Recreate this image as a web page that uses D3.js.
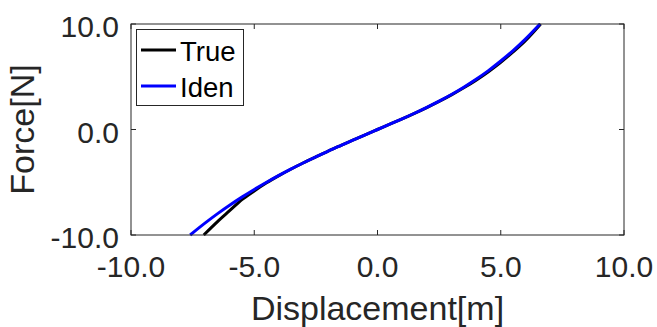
<!DOCTYPE html>
<html>
<head>
<meta charset="utf-8">
<script src="https://cdn.jsdelivr.net/npm/d3@7"></script>
<style>
  body { margin: 0; background: #fff; }
  svg { display: block; font-family: "Liberation Sans", Arial, sans-serif; }
</style>
</head>
<body>
<svg id="viz" width="657" height="327"></svg>
<script>
// values
const trueX = [-7.05, -6.5, -6.0, -5.5, -5.0, -4.5, -4.0, -3.5, -3.0, -2.5, -2.0, -1.5, -1.0, -0.5, 0.0,
  0.5, 1.0, 1.5, 2.0, 2.5, 3.0, 3.5, 4.0, 4.5, 5.0, 5.5, 6.0, 6.62];
const trueF = [-10.0, -8.75, -7.7, -6.65, -5.82, -5.05, -4.37, -3.74, -3.15, -2.59, -2.04, -1.52, -1.01, -0.5, 0.0,
  0.5, 1.0, 1.53, 2.08, 2.66, 3.28, 3.95, 4.68, 5.48, 6.37, 7.35, 8.42, 10.0];

const idenX = [-7.6, -7.0, -6.5, -6.0, -5.5, -5.0, -4.5, -4.0, -3.5, -3.0, -2.5, -2.0, -1.5, -1.0, -0.5, 0.0,
  0.5, 1.0, 1.5, 2.0, 2.5, 3.0, 3.5, 4.0, 4.5, 5.0, 5.5, 6.0, 6.59];
const idenF = [-10.0, -8.88, -8.0, -7.18, -6.41, -5.68, -5.0, -4.35, -3.73, -3.15, -2.59, -2.04, -1.52, -1.01, -0.5, 0.0,
  0.5, 1.01, 1.54, 2.1, 2.69, 3.32, 4.01, 4.76, 5.58, 6.49, 7.48, 8.57, 10.0];

const xTicks = [-10, -5, 0, 5, 10];
const yTicks = [-10, 0, 10];
const seriesNames = ["True", "Iden"];
const seriesColors = ["#000000", "#0000ff"];

const margin = { top: 24, right: 33, bottom: 92, left: 131 };
const AXIS_COLOR = "#262626";
const TICK_LEN = 5;

const svg = d3.select("#viz");
const width = +svg.attr("width");
const height = +svg.attr("height");

const x = d3.scaleLinear().domain([-10, 10]).range([margin.left, width - margin.right]);
const y = d3.scaleLinear().domain([-10, 10]).range([height - margin.bottom, margin.top]);

// plain hyphen for negatives, like the original
const fmt = d => d.toFixed(1);

// curves
const line = d3.line().x(d => x(d[0])).y(d => y(d[1])).curve(d3.curveMonotoneX);
const series = [
  d3.zip(trueX, trueF),
  d3.zip(idenX, idenF)
];
series.forEach((pts, i) => {
  svg.append("path")
    .datum(pts)
    .attr("fill", "none")
    .attr("stroke", seriesColors[i])
    .attr("stroke-width", 3)
    .attr("d", line);
});

// box + inward ticks on all sides
const x0 = x.range()[0], x1 = x.range()[1];
const y0 = y.range()[0], y1 = y.range()[1];
svg.append("rect")
  .attr("x", x0).attr("y", y1)
  .attr("width", x1 - x0).attr("height", y0 - y1)
  .attr("fill", "none").attr("stroke", AXIS_COLOR).attr("stroke-width", 1);

const ticks = svg.append("g").attr("stroke", AXIS_COLOR).attr("stroke-width", 1);
xTicks.forEach(t => {
  ticks.append("line").attr("x1", x(t)).attr("x2", x(t)).attr("y1", y0).attr("y2", y0 - TICK_LEN);
  ticks.append("line").attr("x1", x(t)).attr("x2", x(t)).attr("y1", y1).attr("y2", y1 + TICK_LEN);
});
yTicks.forEach(t => {
  ticks.append("line").attr("y1", y(t)).attr("y2", y(t)).attr("x1", x0).attr("x2", x0 + TICK_LEN);
  ticks.append("line").attr("y1", y(t)).attr("y2", y(t)).attr("x1", x1).attr("x2", x1 - TICK_LEN);
});

// tick labels
svg.append("g").selectAll("text")
  .data(xTicks).join("text")
  .attr("x", d => x(d))
  .attr("y", y0 + 42)
  .attr("text-anchor", "middle")
  .attr("font-size", 30)
  .attr("fill", AXIS_COLOR)
  .text(fmt);

svg.append("g").selectAll("text")
  .data(yTicks).join("text")
  .attr("x", x0 - 12)
  .attr("y", d => y(d) + 13)
  .attr("text-anchor", "end")
  .attr("font-size", 30)
  .attr("fill", AXIS_COLOR)
  .text(fmt);

// axis titles
svg.append("text")
  .attr("x", (x0 + x1) / 2)
  .attr("y", 320)
  .attr("text-anchor", "middle")
  .attr("font-size", 34)
  .attr("fill", AXIS_COLOR)
  .text("Displacement[m]");

svg.append("text")
  .attr("transform", `translate(34,${(y0 + y1) / 2}) rotate(-90)`)
  .attr("text-anchor", "middle")
  .attr("font-size", 34)
  .attr("fill", AXIS_COLOR)
  .text("Force[N]");

// legend
const legend = svg.append("g");
legend.append("rect")
  .attr("x", 136.5).attr("y", 29.5)
  .attr("width", 107).attr("height", 76)
  .attr("fill", "#fff").attr("stroke", AXIS_COLOR).attr("stroke-width", 1);
seriesNames.forEach((name, i) => {
  const ly = 50 + i * 36;
  legend.append("line")
    .attr("x1", 141).attr("x2", 176)
    .attr("y1", ly).attr("y2", ly)
    .attr("stroke", seriesColors[i]).attr("stroke-width", 3);
  legend.append("text")
    .attr("x", 180).attr("y", ly + 11)
    .attr("font-size", 27.5)
    .attr("fill", "#000")
    .text(name);
});
</script>
</body>
</html>
